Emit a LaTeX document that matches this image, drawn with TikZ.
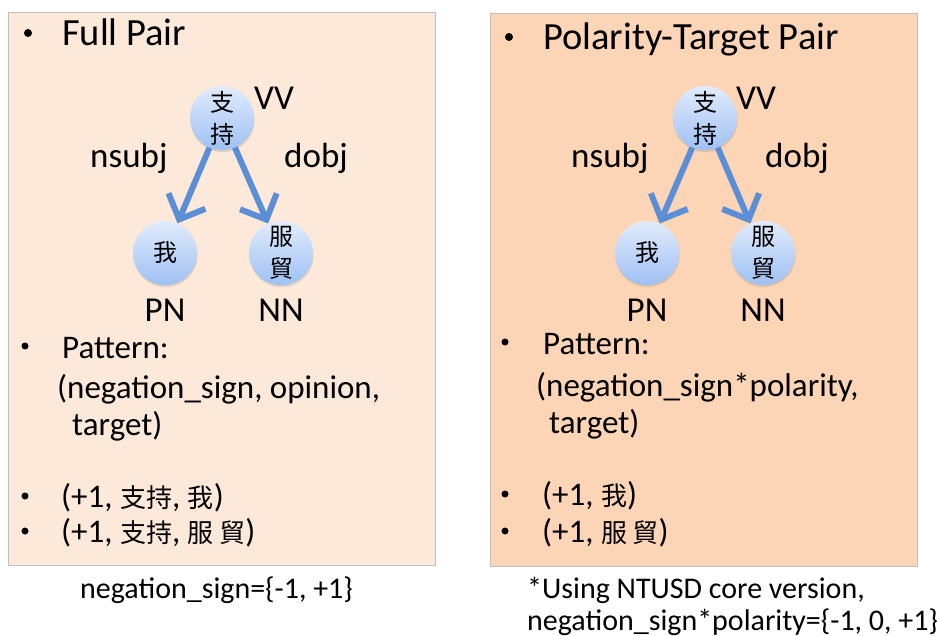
\documentclass[tikz,border=0pt]{standalone}
\usepackage{fontspec}
\setmainfont{Carlito}
\newfontfamily\cjk{Noto Sans CJK TC}
\usetikzlibrary{arrows.meta,shadows}
\definecolor{leftfill}{HTML}{FDE9D9}
\definecolor{rightfill}{HTML}{FBD5B5}
\definecolor{boxline}{HTML}{BFBFBF}
\definecolor{circtop}{HTML}{E2EBFC}
\definecolor{circbot}{HTML}{9EC1F4}
\definecolor{arrowblue}{HTML}{5A8ED6}
\newcommand{\ck}[1]{{\cjk\fontsize{26}{26}\selectfont #1}}
\tikzset{
  panel/.style={draw=boxline, line width=0.8pt},
  tok/.style={circle, minimum size=64pt, inner sep=0pt, top color=circtop, bottom color=circbot,
    draw=none, drop shadow={opacity=0.25, shadow xshift=0.5pt, shadow yshift=-2pt},
    font=\cjk\fontsize{24}{30}\selectfont, align=center},
  dep/.style={draw=arrowblue, line width=6pt, -{Straight Barb[length=20pt, width=40pt, line width=6pt]}},
  ttl/.style={anchor=base west, inner sep=0pt, font=\fontsize{38.5}{40}\selectfont},
  lbl/.style={anchor=base, inner sep=0pt, font=\fontsize{35}{36}\selectfont},
  body/.style={anchor=base west, inner sep=0pt, font=\fontsize{33}{36}\selectfont},
  note/.style={anchor=base west, inner sep=0pt, font=\fontsize{30}{32}\selectfont},
  dot/.style={circle, fill=black, inner sep=0pt, minimum size=8pt},
}
\begin{document}
\begin{tikzpicture}[x=1pt, y=-1pt]
\useasboundingbox (0,0) rectangle (937,636);
% panels
\node[panel, fill=leftfill, minimum width=427pt, minimum height=553pt, inner sep=0pt, anchor=north west] (lp) at (8,12) {};
\node[panel, fill=rightfill, minimum width=427pt, minimum height=553pt, inner sep=0pt, anchor=north west] (rp) at (490,13) {};

% ---------- left panel ----------
\node[dot] (lb1) at (28,33) {};
\node[ttl] (lt) at (62,46) {Full Pair};
\node[tok] (lzc) at (222,118) {支\\[2pt]持};
\node[tok] (lwo) at (165,253) {我};
\node[tok] (lfm) at (281,253) {服\\[2pt]貿};
\node[lbl, anchor=base west] (lvv) at (254,110) {VV};
\node[lbl, anchor=base west] (lns) at (90,168) {nsubj};
\node[lbl, anchor=base west] (ldo) at (284,168) {dobj};
\node[lbl] (lpn) at (165,322) {PN};
\node[lbl] (lnn) at (281,322) {NN};
\draw[dep] (lzc) -- (lwo);
\draw[dep] (lzc) -- (lfm);
\node[dot, minimum size=7pt] (lb2) at (25,346) {};
\node[body] (lpat) at (62,358) {Pattern:};
\node[body] (lpat2) at (57,398) {(negation\_sign, opinion,};
\node[body] (lpat3) at (72,435) {target)};
\node[dot, minimum size=7pt] (lb3) at (25,496) {};
\node[body] (lex1) at (61,507) {(+1, \ck{支持}, \ck{我})};
\node[dot, minimum size=7pt] (lb4) at (25,531) {};
\node[body] (lex2) at (61,542) {(+1, \ck{支持}, \ck{服}\,\ck{貿})};

% ---------- right panel ----------
\node[dot] (rb1) at (509,37) {};
\node[ttl] (rt) at (543,50) {Polarity-Target Pair};
\node[tok] (rzc) at (705,118) {支\\[2pt]持};
\node[tok] (rwo) at (647,253) {我};
\node[tok] (rfm) at (763,253) {服\\[2pt]貿};
\node[lbl, anchor=base west] (rvv) at (736,110) {VV};
\node[lbl, anchor=base west] (rns) at (571,168) {nsubj};
\node[lbl, anchor=base west] (rdo) at (765,168) {dobj};
\node[lbl] (rpn) at (647,322) {PN};
\node[lbl] (rnn) at (763,322) {NN};
\draw[dep] (rzc) -- (rwo);
\draw[dep] (rzc) -- (rfm);
\node[dot, minimum size=7pt] (rb2) at (505,342) {};
\node[body] (rpat) at (543,354) {Pattern:};
\node[body] (rpat2) at (536,396) {(negation\_sign*polarity,};
\node[body] (rpat3) at (549,433) {target)};
\node[dot, minimum size=7pt] (rb3) at (505,494) {};
\node[body] (rex1) at (542,505) {(+1, \ck{我})};
\node[dot, minimum size=7pt] (rb4) at (505,531) {};
\node[body] (rex2) at (542,542) {(+1, \ck{服}\,\ck{貿})};

% ---------- notes ----------
\node[note] (n1) at (80,598) {negation\_sign=\{-1, +1\}};
\node[note] (n2) at (527,598) {*Using NTUSD core version,};
\node[note] (n3) at (527,630) {negation\_sign*polarity=\{-1, 0, +1\}};
\end{tikzpicture}
\end{document}
